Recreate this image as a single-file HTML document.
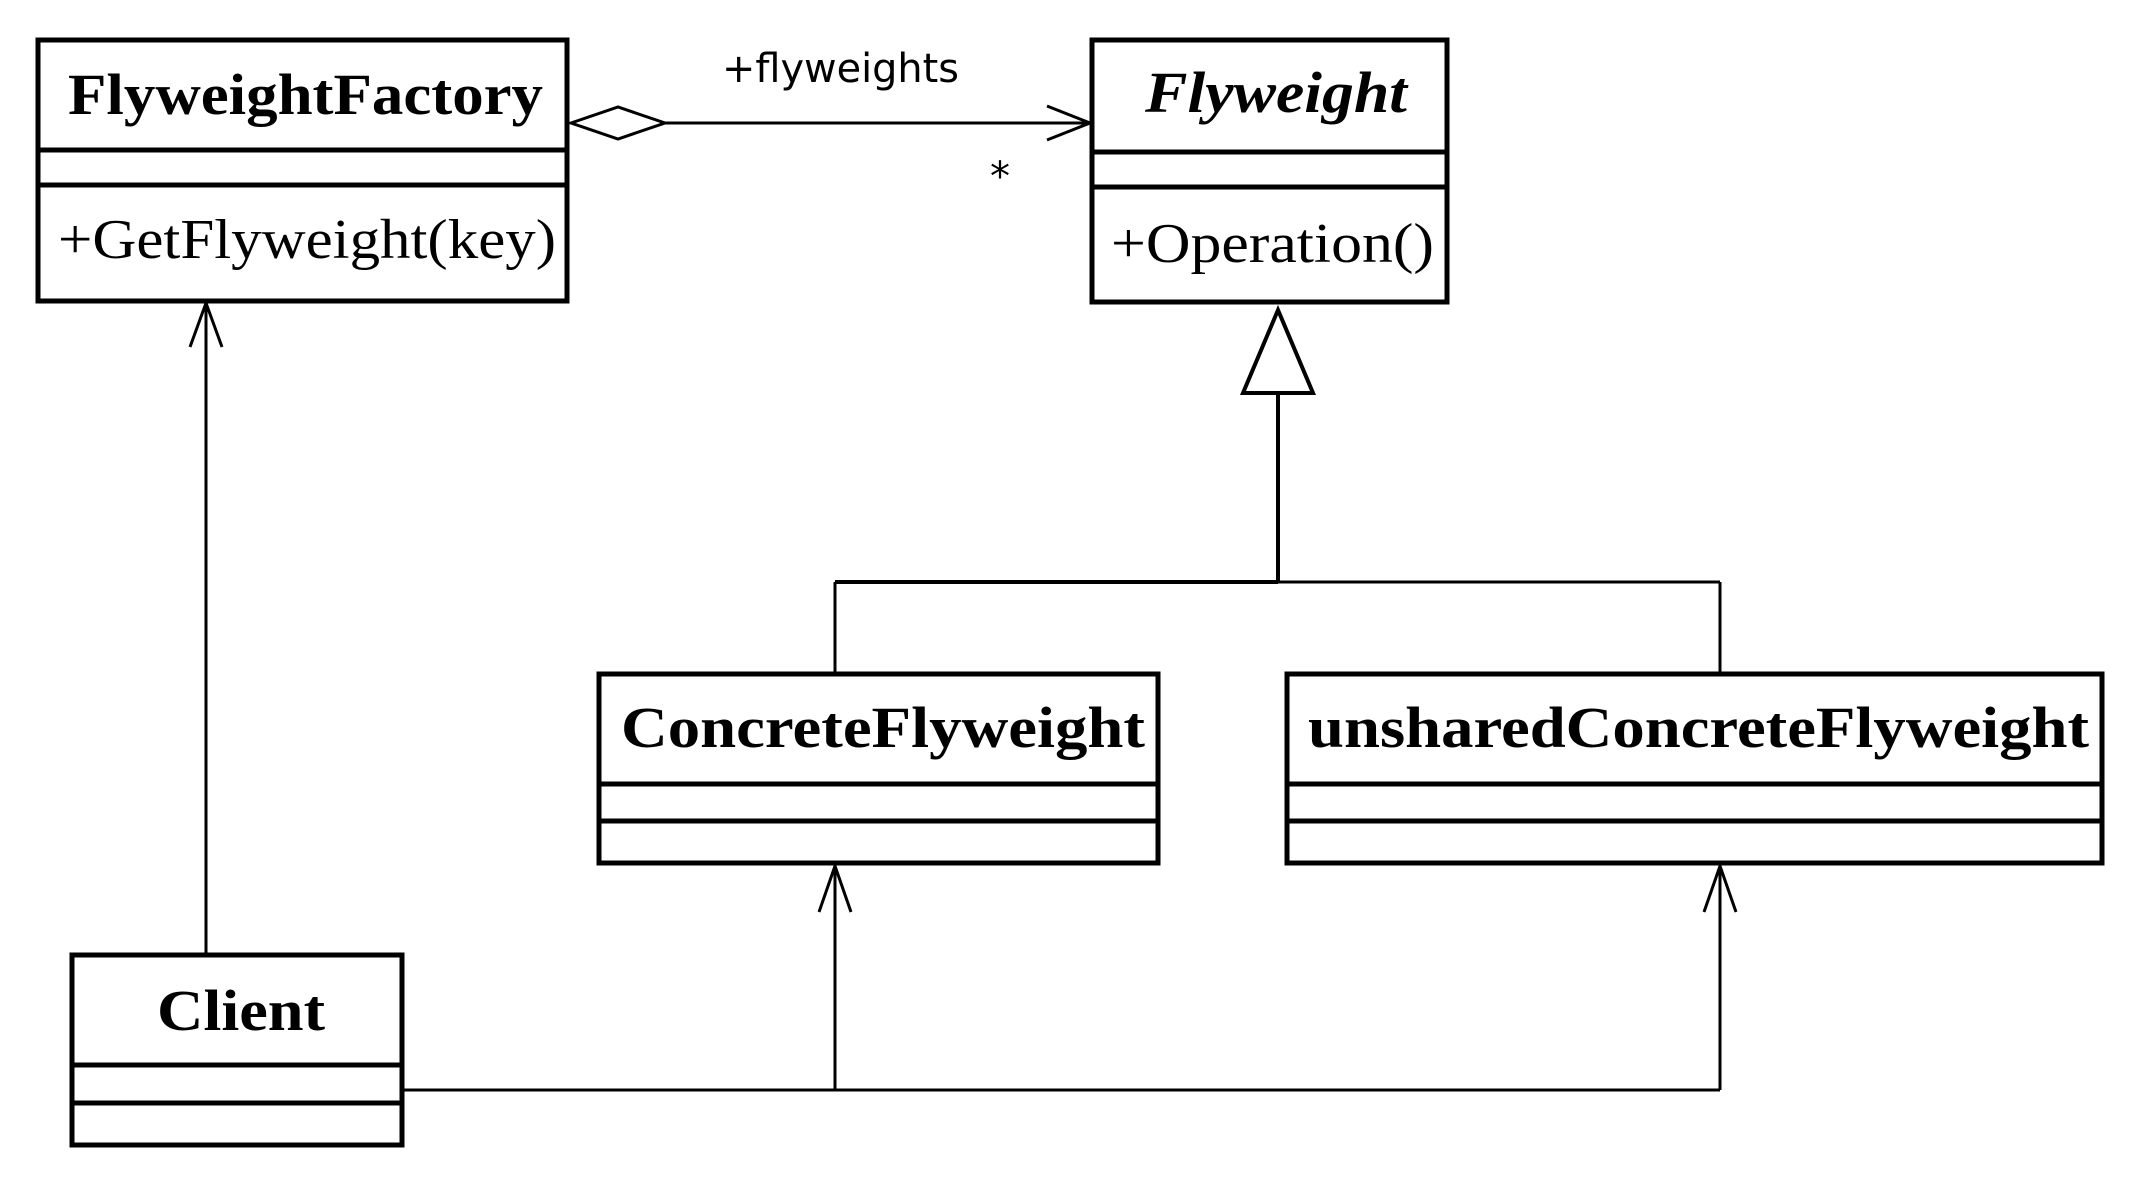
<!DOCTYPE html>
<html><head><style>html,body{margin:0;padding:0;background:#fff;}svg{display:block}</style></head>
<body>
<svg width="2130" height="1192" viewBox="0 0 2130 1192" xmlns="http://www.w3.org/2000/svg">
<rect width="2130" height="1192" fill="#fff"/>
<g fill="none" stroke="#000" stroke-width="5">
<!-- FlyweightFactory -->
<rect x="38" y="40" width="529" height="261"/>
<line x1="38" y1="150" x2="567" y2="150"/>
<line x1="38" y1="185" x2="567" y2="185"/>
<!-- Flyweight -->
<rect x="1092" y="40" width="355" height="262"/>
<line x1="1092" y1="152" x2="1447" y2="152"/>
<line x1="1092" y1="187" x2="1447" y2="187"/>
<!-- ConcreteFlyweight -->
<rect x="599" y="674" width="559" height="189"/>
<line x1="599" y1="784" x2="1158" y2="784"/>
<line x1="599" y1="821" x2="1158" y2="821"/>
<!-- unshared -->
<rect x="1287" y="674" width="815" height="189"/>
<line x1="1287" y1="784" x2="2102" y2="784"/>
<line x1="1287" y1="821" x2="2102" y2="821"/>
<!-- Client -->
<rect x="72" y="955" width="330" height="190"/>
<line x1="72" y1="1065" x2="402" y2="1065"/>
<line x1="72" y1="1103" x2="402" y2="1103"/>
</g>
<g fill="none" stroke="#000" stroke-width="3">
<!-- aggregation -->
<polygon points="571,123 618,107 665,123 618,139" fill="#fff"/>
<line x1="665" y1="123" x2="1090" y2="123"/>
<polyline points="1047,106 1090,123 1047,140"/>
<!-- generalization -->
<polygon points="1278,310 1243,393 1313,393" fill="#fff" stroke-width="4"/>
<line x1="1278" y1="393" x2="1278" y2="582" stroke-width="4"/>
<line x1="835" y1="582" x2="1278" y2="582" stroke-width="4"/>
<line x1="1278" y1="582" x2="1720" y2="582"/>
<line x1="835" y1="582" x2="835" y2="674"/>
<line x1="1720" y1="582" x2="1720" y2="674"/>
<!-- client to factory -->
<line x1="206" y1="955" x2="206" y2="303"/>
<polyline points="190,347 206,303 222,347"/>
<!-- client to concretes -->
<line x1="402" y1="1090" x2="1720" y2="1090"/>
<line x1="835" y1="1090" x2="835" y2="866"/>
<polyline points="819,912 835,866 851,912"/>
<line x1="1720" y1="1090" x2="1720" y2="866"/>
<polyline points="1704,912 1720,866 1736,912"/>
</g>
<g font-family="'Liberation Serif',serif" fill="#000">
<text x="68" y="114" font-size="58" font-weight="bold" textLength="475" lengthAdjust="spacingAndGlyphs">FlyweightFactory</text>
<text x="58" y="258" font-size="56" textLength="498" lengthAdjust="spacingAndGlyphs">+GetFlyweight(key)</text>
<text x="1145" y="112" font-size="58" font-weight="bold" font-style="italic" textLength="262" lengthAdjust="spacingAndGlyphs">Flyweight</text>
<text x="1111" y="262" font-size="56" textLength="323" lengthAdjust="spacingAndGlyphs">+Operation()</text>
<text x="621" y="747" font-size="58" font-weight="bold" textLength="524" lengthAdjust="spacingAndGlyphs">ConcreteFlyweight</text>
<text x="1308" y="747" font-size="58" font-weight="bold" textLength="781" lengthAdjust="spacingAndGlyphs">unsharedConcreteFlyweight</text>
<text x="157" y="1030" font-size="58" font-weight="bold" textLength="168" lengthAdjust="spacingAndGlyphs">Client</text>
</g>
<g font-family="'DejaVu Sans',sans-serif" fill="#000">
<text x="722" y="82" font-size="40" textLength="237" lengthAdjust="spacingAndGlyphs">+flyweights</text>
<text x="990" y="190" font-size="40">*</text>
</g>
</svg>
</body></html>
